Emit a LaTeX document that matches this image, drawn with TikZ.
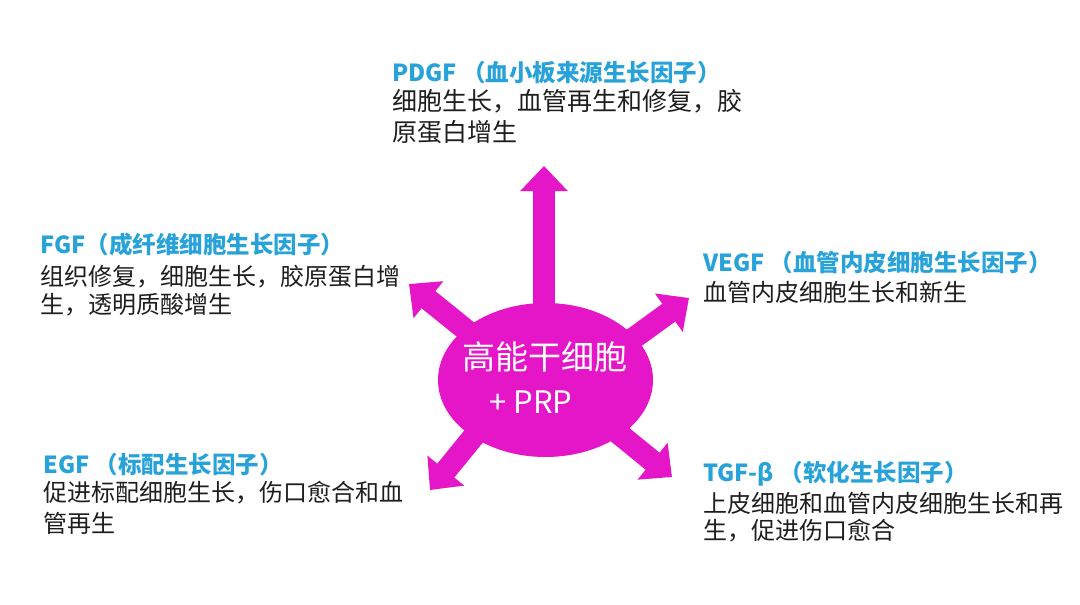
\documentclass[tikz,border=0pt]{standalone}
\usepackage{fontspec}
\setmainfont{Noto Sans CJK SC}
\usetikzlibrary{arrows.meta,backgrounds,shapes.geometric}
\definecolor{mag}{RGB}{228,22,200}
\definecolor{ttl}{RGB}{40,163,217}
\definecolor{txt}{RGB}{30,30,30}
\begin{document}
\begin{tikzpicture}[x=1pt,y=-1pt,
  bigarrow/.style={draw=mag, line width=22pt, -{Triangle[width=46pt,length=25pt,fill=mag]}},
  corenode/.style={ellipse, fill=mag, minimum width=215pt, minimum height=154pt, inner sep=0pt},
  ttlnode/.style={anchor=base west, inner sep=0pt, text=ttl, font=\fontsize{23.5}{28}\selectfont\bfseries},
  bodynode/.style={anchor=base west, inner sep=0pt, text=txt, align=left},
  coretext/.style={text=white, inner sep=0pt}
]
\useasboundingbox (0,0) rectangle (1080,605);

% central ellipse
\node[corenode] (core) at (545.5,380) {};
\node[coretext, font=\fontsize{33}{33}\selectfont] (c1) at (545,357) {高能干细胞};
\node[coretext, font=\fontsize{31}{31}\selectfont] (c2) at (531,402) {+ PRP};

% arrow ends
\coordinate (sU) at (544,380);   \coordinate (tU) at (544,166);
\coordinate (sUL) at (549,397);  \coordinate (tUL) at (409,284);
\coordinate (sUR) at (543,404);  \coordinate (tUR) at (689,298);
\coordinate (sLL) at (531,366);  \coordinate (tLL) at (430,490);
\coordinate (sLR) at (548,376);  \coordinate (tLR) at (672,477);

\begin{pgfonlayer}{background}
\draw[bigarrow] (sU) -- (tU);
\draw[bigarrow] (sUL) -- (tUL);
\draw[bigarrow] (sUR) -- (tUR);
\draw[bigarrow] (sLL) -- (tLL);
\draw[bigarrow] (sLR) -- (tLR);
\end{pgfonlayer}

% PDGF
\node[ttlnode] (pdgft) at (392,81) {PDGF （血小板来源生长因子）};
\node[bodynode, font=\fontsize{25}{31}\selectfont] (pdgfb) at (392,141) {细胞生长，血管再生和修复，胶\\原蛋白增生};

% FGF
\node[ttlnode] (fgft) at (40,253) {FGF（成纤维细胞生长因子）};
\node[bodynode, font=\fontsize{24}{28.5}\selectfont] (fgfb) at (40,313.5) {组织修复，细胞生长，胶原蛋白增\\生，透明质酸增生};

% VEGF
\node[ttlnode] (vegft) at (703,271) {VEGF （血管内皮细胞生长因子）};
\node[bodynode, font=\fontsize{24}{28.5}\selectfont] (vegfb) at (703,301) {血管内皮细胞生长和新生};

% EGF
\node[ttlnode] (egft) at (43,473) {EGF （标配生长因子）};
\node[bodynode, font=\fontsize{24}{31.5}\selectfont] (egfb) at (43,532.5) {促进标配细胞生长，伤口愈合和血\\管再生};

% TGF-beta
\node[ttlnode] (tgft) at (703,481) {TGF-β （软化生长因子）};
\node[bodynode, font=\fontsize{24}{27.5}\selectfont] (tgfb) at (703,539.5) {上皮细胞和血管内皮细胞生长和再\\生，促进伤口愈合};
\end{tikzpicture}
\end{document}
